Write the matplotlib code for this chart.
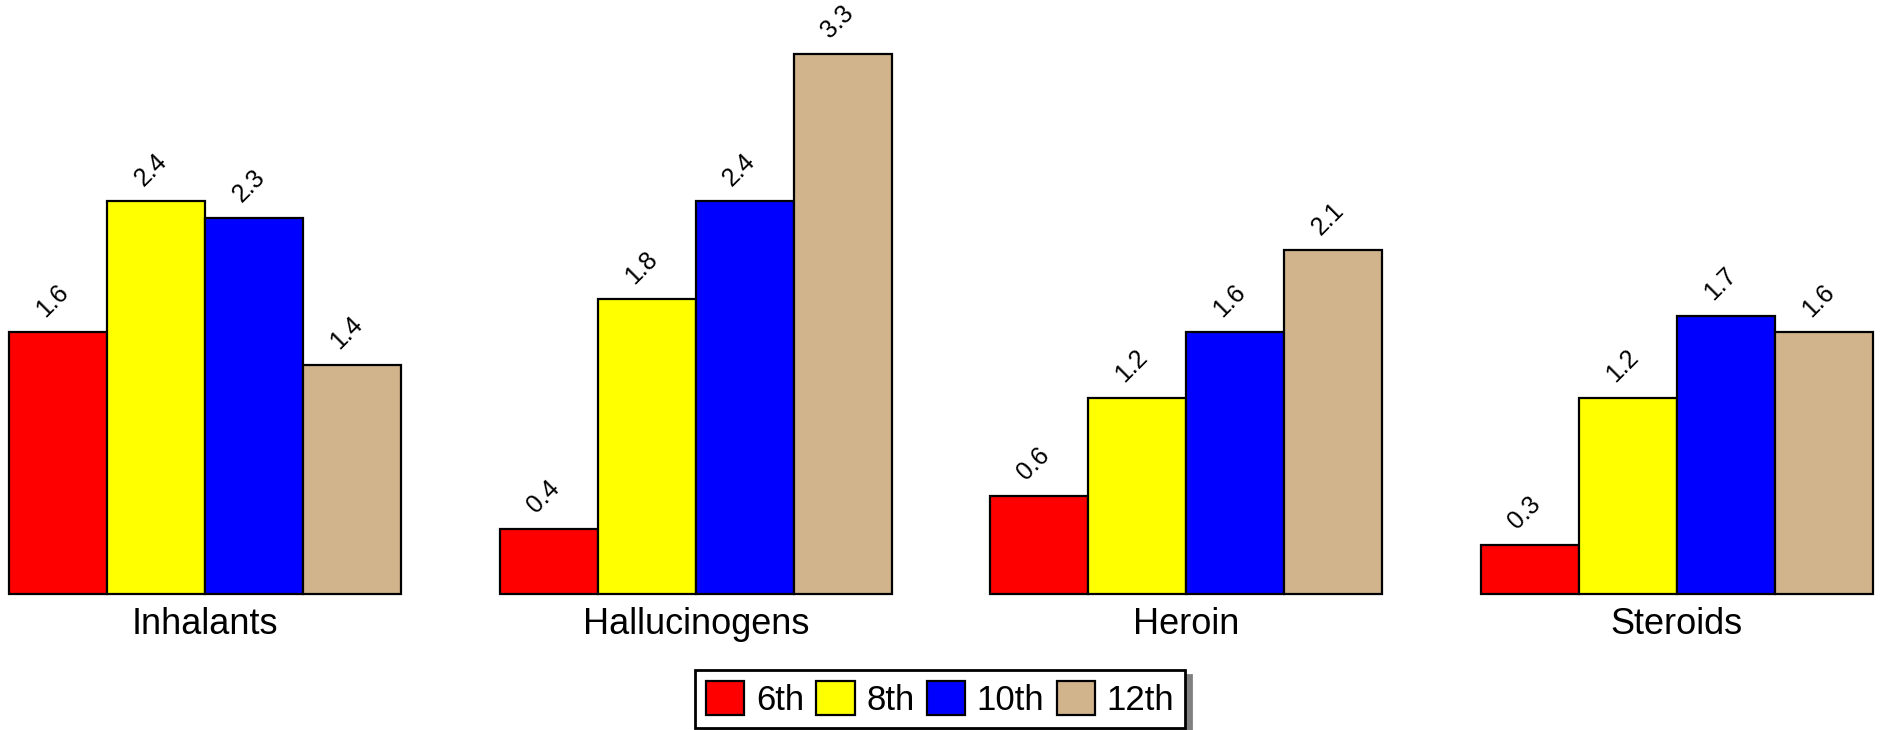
import matplotlib
matplotlib.use("Agg")
import matplotlib.pyplot as plt
import numpy as np

# === DATA ===
categories = ["Inhalants", "Hallucinogens", "Heroin", "Steroids"]
grades = ["6th", "8th", "10th", "12th"]
grade_6 = [1.6, 0.4, 0.6, 0.3]
grade_8 = [2.4, 1.8, 1.2, 1.2]
grade_10 = [2.3, 2.4, 1.6, 1.7]
grade_12 = [1.4, 3.3, 2.1, 1.6]
colors = ["#FF0000", "#FFFF00", "#0000FF", "#D2B48C"]

plt.rcParams["font.family"] = ["Liberation Sans", "DejaVu Sans"]

# === PLOT ===
W, H = 1881, 730
fig = plt.figure(figsize=(W / 100, H / 100), dpi=100)
ax = fig.add_axes([9 / W, (H - 594) / H, (1873 - 9) / W, 540 / H])

x = np.arange(len(categories))
width = 0.2
series = [grade_6, grade_8, grade_10, grade_12]
for i, (vals, col, lab) in enumerate(zip(series, colors, grades)):
    pos = x - 0.3 + i * width
    bars = ax.bar(pos, vals, width, color=col, edgecolor="black",
                  linewidth=1.6, label=lab, clip_on=False)
    for b, v in zip(bars, vals):
        ax.annotate(f"{v:.1f}", (b.get_x() + b.get_width() / 2, v),
                    xytext=(-4, 8), textcoords="offset points",
                    ha="center", va="bottom", rotation=45, fontsize=18)

ax.set_xlim(-0.4, 3.4)
ax.set_ylim(0, 3.3)
ax.set_xticks(x)
ax.set_xticklabels(categories, fontsize=26)
ax.tick_params(axis="x", length=0, pad=9)
ax.set_yticks([])
for s in ax.spines.values():
    s.set_visible(False)

handles, labels = ax.get_legend_handles_labels()
leg = fig.legend(handles, labels, loc="lower center", ncol=4,
                 bbox_to_anchor=(940 / W, 2 / H), fontsize=25,
                 fancybox=False, edgecolor="black", framealpha=1,
                 shadow={"ox": 4, "oy": -4, "color": "gray", "alpha": 1},
                 handlelength=1.1, handleheight=1.15, handletextpad=0.33,
                 columnspacing=0.36, borderpad=0.32, borderaxespad=0)
leg.get_frame().set_linewidth(2)

fig.savefig("out.png", dpi=100)
